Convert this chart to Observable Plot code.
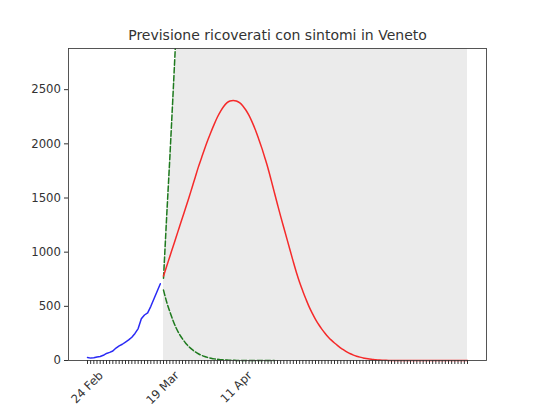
<!DOCTYPE html>
<html>
<head>
<meta charset="utf-8">
<script src="https://cdn.jsdelivr.net/npm/d3@7"></script>
<script src="https://cdn.jsdelivr.net/npm/@observablehq/plot@0.6"></script>
<style>
  body { margin: 0; background: #fff; }
  #chart svg { display: block; }
</style>
</head>
<body>
<div id="chart"></div>
<script>
// ---- data ----
const startDate = "2020-02-24";
const titleText = "Previsione ricoverati con sintomi in Veneto";

// observed hospitalised with symptoms, days 0..23 (24 Feb .. 18 Mar)
const observed = [28, 22, 25, 32, 37, 48, 65, 75, 88, 115, 135, 150, 170, 190, 215, 250, 295, 385, 420, 440, 500, 570, 640, 708];

// forecast (red), days 24..120
const forecastStartDay = 24;
const forecast = [
  780, 870, 960, 1050, 1140, 1230, 1320, 1410, 1500, 1595,
  1690, 1785, 1870, 1955, 2035, 2110, 2180, 2245, 2300, 2345,
  2378, 2395, 2400, 2395, 2380, 2352, 2312, 2262, 2200, 2130,
  2050, 1965, 1872, 1775, 1665, 1552, 1440, 1330, 1225, 1120,
  1015, 910, 810, 720, 640, 565, 495, 435, 380, 332,
  290, 252, 218, 188, 162, 138, 115, 96, 78, 62,
  50, 40, 31, 24, 18, 13, 10, 7, 5, 3,
  2, 1, 1, 1, 1, 0, 0, 0, 0, 0,
  0, 0, 0, 0, 0, 0, 0, 0, 0, 0,
  0, 0, 0, 0, 0, 0, 0
];

// green dashed bounds, from day 24
const upperBound = [760, 1330, 1870, 2450, 3050];
const lowerBound = [650, 540, 450, 370, 300, 245, 200, 160, 128, 102, 80, 62, 48, 37, 28, 21, 15, 11, 8, 6, 4, 3, 2, 1, 0, 0, 0, 0, 0, 0, 0, 0, 0, 0, 0, 0];

const lastDay = 120;
const yMax = 2880;
const yTicks = [0, 500, 1000, 1500, 2000, 2500];
const labelDates = ["2020-02-24", "2020-03-19", "2020-04-11"];
const labelTexts = ["24 Feb", "19 Mar", "11 Apr"];

// ---- build tables ----
const d0 = new Date(startDate);
const day = i => d3.utcDay.offset(d0, i);

const obsData = observed.map((v, i) => ({date: day(i), value: v}));
const fcData = forecast.map((v, i) => ({date: day(forecastStartDay + i), value: v}));
const upData = upperBound.map((v, i) => ({date: day(forecastStartDay + i), value: v}));
const lowData = lowerBound.map((v, i) => ({date: day(forecastStartDay + i), value: v}));
const shadeData = d3.range(forecastStartDay, lastDay + 1).map(d => {
  const k = d - forecastStartDay;
  const top = k < upperBound.length ? Math.min(upperBound[k], yMax) : yMax;
  return {date: day(d), top};
});
const allDays = d3.range(0, lastDay + 1).map(day);
const labelData = labelDates.map((s, i) => ({date: new Date(s), label: labelTexts[i]}));
const pad = Math.round(lastDay * 0.05);

const chart = Plot.plot({
  width: 540,
  height: 405,
  marginLeft: 68,
  marginRight: 54,
  marginTop: 48,
  marginBottom: 45,
  style: {fontFamily: "DejaVu Sans, sans-serif", fontSize: "11.7px", color: "#333", background: "#fff"},
  x: {type: "utc", domain: [day(-pad), day(lastDay + pad)]},
  y: {domain: [0, yMax]},
  marks: [
    Plot.areaY(shadeData, {x: "date", y1: 0, y2: "top", fill: "#ebebeb", curve: "linear"}),
    Plot.line(obsData, {x: "date", y: "value", stroke: "#2a2af5", strokeWidth: 1.5}),
    Plot.line(lowData, {x: "date", y: "value", stroke: "#1e7a1e", strokeWidth: 1.5, strokeDasharray: "5.5,2.4", curve: "monotone-x"}),
    Plot.line(upData, {x: "date", y: "value", stroke: "#1e7a1e", strokeWidth: 1.5, strokeDasharray: "5.5,2.4", clip: true}),
    Plot.line(fcData, {x: "date", y: "value", stroke: "#f52a2a", strokeWidth: 1.5, curve: "monotone-x"}),
    Plot.frame({stroke: "#444", strokeWidth: 0.9}),
    Plot.axisY({ticks: yTicks, tickSize: 4, tickPadding: 3.5, label: null, tickFormat: d => String(d)}),
    Plot.axisX({ticks: allDays, tickSize: 4, fill: "none", label: null}),
    Plot.text(labelData, {x: "date", text: "label", frameAnchor: "bottom", rotate: -45, textAnchor: "end", lineAnchor: "middle", dx: 13.6, dy: 13, fill: "#333"}),
    Plot.text([titleText], {frameAnchor: "top", dy: -13, lineAnchor: "middle", fontSize: 14, fill: "#333"})
  ]
});
document.getElementById("chart").appendChild(chart);
</script>
</body>
</html>
